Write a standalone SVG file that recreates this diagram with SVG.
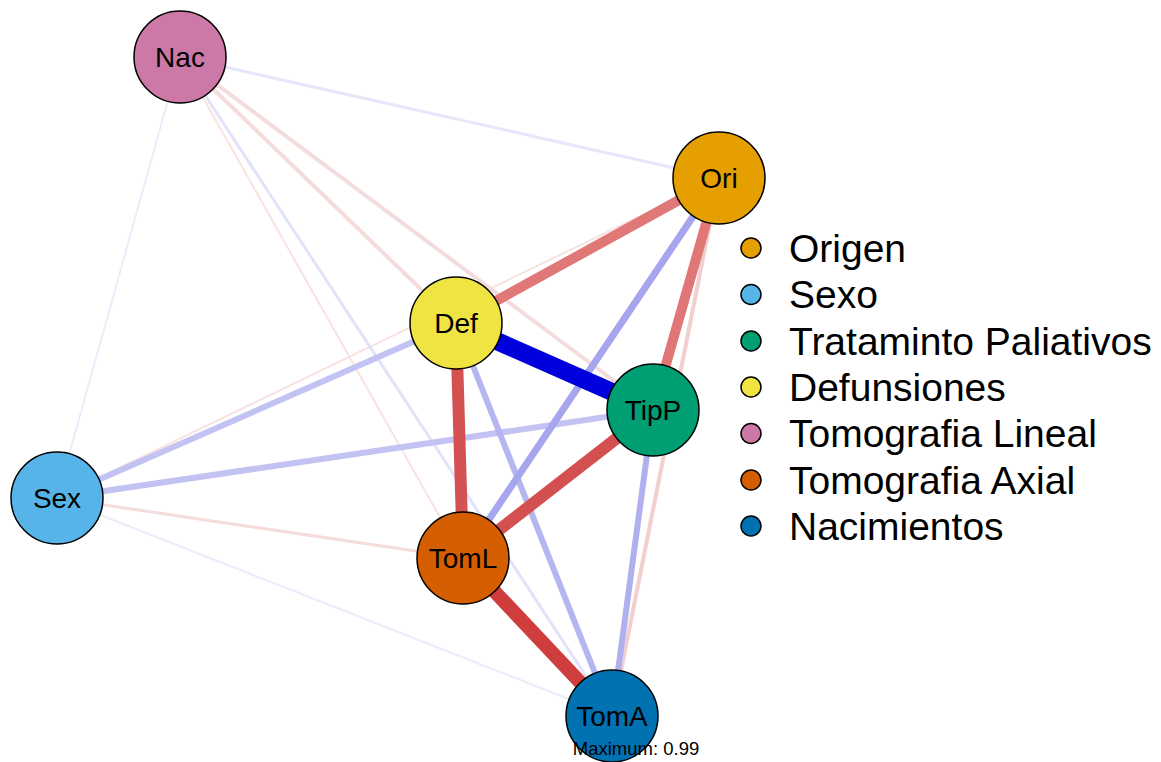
<svg xmlns="http://www.w3.org/2000/svg" width="1161" height="762" viewBox="0 0 1161 762">
<style>
.node{stroke:#000;stroke-width:1.5}
.lbl{font-family:"Liberation Sans",Arial,sans-serif;font-size:28px;fill:#000;text-anchor:middle;dominant-baseline:central}
.leg{font-family:"Liberation Sans",Arial,sans-serif;font-size:39px;fill:#000;dominant-baseline:central}
.lc{stroke:#000;stroke-width:1.5}
line{stroke-linecap:butt}
</style>
<rect width="1161" height="762" fill="#fff"/>
<g id="connectors" fill="none">
<line x1="180" y1="57" x2="57" y2="498" stroke="#ececfc" stroke-width="2"/>
<line x1="57" y1="498" x2="719" y2="178" stroke="#f8e2e2" stroke-width="2"/>
<line x1="57" y1="498" x2="612" y2="716" stroke="#ebebfc" stroke-width="2"/>
<line x1="180" y1="57" x2="463" y2="558" stroke="#f8e2e2" stroke-width="2"/>
<line x1="180" y1="57" x2="719" y2="178" stroke="#e7e7fb" stroke-width="3"/>
<line x1="180" y1="57" x2="612" y2="716" stroke="#e2e2fa" stroke-width="3"/>
<line x1="57" y1="498" x2="463" y2="558" stroke="#f6dcdc" stroke-width="3"/>
<line x1="180" y1="57" x2="653" y2="410" stroke="#f5dcdc" stroke-width="4"/>
<line x1="180" y1="57" x2="456" y2="323" stroke="#f5dcdc" stroke-width="4"/>
<line x1="719" y1="178" x2="612" y2="716" stroke="#f2cece" stroke-width="4"/>
<line x1="57" y1="498" x2="456" y2="323" stroke="#c2c2f3" stroke-width="6"/>
<line x1="57" y1="498" x2="653" y2="410" stroke="#c2c2f3" stroke-width="6"/>
<line x1="456" y1="323" x2="612" y2="716" stroke="#b5b5f0" stroke-width="6"/>
<line x1="653" y1="410" x2="612" y2="716" stroke="#b0b0ef" stroke-width="6"/>
<line x1="719" y1="178" x2="463" y2="558" stroke="#a6a6ee" stroke-width="7"/>
<line x1="719" y1="178" x2="456" y2="323" stroke="#e07878" stroke-width="10"/>
<line x1="719" y1="178" x2="653" y2="410" stroke="#e07676" stroke-width="10"/>
<line x1="456" y1="323" x2="463" y2="558" stroke="#d55252" stroke-width="12"/>
<line x1="463" y1="558" x2="653" y2="410" stroke="#d45050" stroke-width="12"/>
<line x1="463" y1="558" x2="612" y2="716" stroke="#cf3d3d" stroke-width="14"/>
<line x1="456" y1="323" x2="653" y2="410" stroke="#0000dc" stroke-width="18"/>
</g>
<g id="node-Nac"><circle class="node" cx="180" cy="57" r="46" fill="#CC79A7"/><text class="lbl" x="180" y="57">Nac</text></g>
<g id="node-Ori"><circle class="node" cx="719" cy="178" r="46" fill="#E69F00"/><text class="lbl" x="719" y="178">Ori</text></g>
<g id="node-Def"><circle class="node" cx="456" cy="323" r="46" fill="#F0E442"/><text class="lbl" x="456" y="323">Def</text></g>
<g id="node-TipP"><circle class="node" cx="653" cy="410" r="46" fill="#009E73"/><text class="lbl" x="653" y="410">TipP</text></g>
<g id="node-Sex"><circle class="node" cx="57" cy="498" r="46" fill="#56B4E9"/><text class="lbl" x="57" y="498">Sex</text></g>
<g id="node-TomL"><circle class="node" cx="463" cy="558" r="46" fill="#D55E00"/><text class="lbl" x="463" y="558">TomL</text></g>
<g id="node-TomA"><circle class="node" cx="612" cy="716" r="46" fill="#0072B2"/><text class="lbl" x="612" y="716">TomA</text></g>
<g id="legend">
<circle class="lc" cx="751" cy="248" r="10" fill="#E69F00"/><text class="leg" x="789" y="248">Origen</text>
<circle class="lc" cx="751" cy="294.5" r="10" fill="#56B4E9"/><text class="leg" x="789" y="294.5">Sexo</text>
<circle class="lc" cx="751" cy="341" r="10" fill="#009E73"/><text class="leg" x="789" y="341">Trataminto Paliativos</text>
<circle class="lc" cx="751" cy="387" r="10" fill="#F0E442"/><text class="leg" x="789" y="387">Defunsiones</text>
<circle class="lc" cx="751" cy="433.5" r="10" fill="#CC79A7"/><text class="leg" x="789" y="433.5">Tomografia Lineal</text>
<circle class="lc" cx="751" cy="480" r="10" fill="#D55E00"/><text class="leg" x="789" y="480">Tomografia Axial</text>
<circle class="lc" cx="751" cy="526" r="10" fill="#0072B2"/><text class="leg" x="789" y="526">Nacimientos</text>
</g>
<text x="636" y="748" font-family="Liberation Sans, Arial, sans-serif" font-size="18.5" text-anchor="middle" dominant-baseline="central">Maximum: 0.99</text>
</svg>
